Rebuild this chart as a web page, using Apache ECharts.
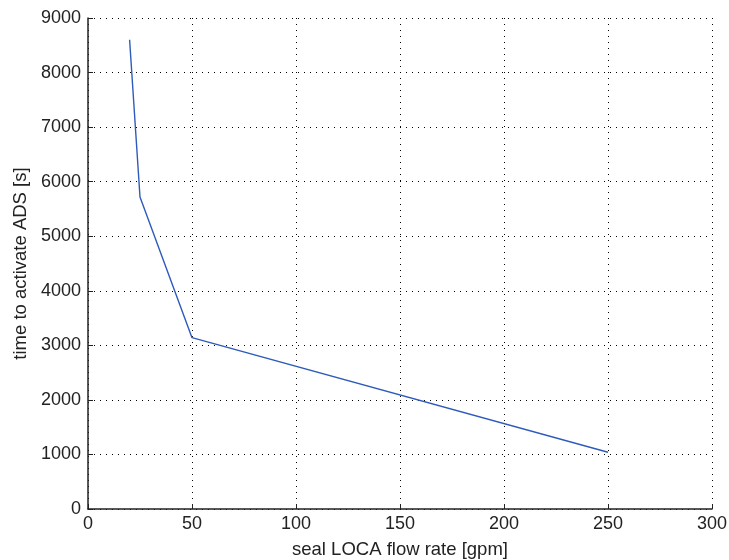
<!DOCTYPE html>
<html>
<head>
<meta charset="utf-8">
<script src="https://cdn.jsdelivr.net/npm/echarts@6/dist/echarts.min.js"></script>
<style>html,body{margin:0;padding:0;background:#fff}#c{width:729px;height:560px}</style>
</head>
<body>
<div id="c"></div>
<script>
const flowRate = [20, 25, 50, 250];
const timeToADS = [8600, 5720, 3140, 1040];
const xTicks = [0, 50, 100, 150, 200, 250, 300];
const yTicks = [0, 1000, 2000, 3000, 4000, 5000, 6000, 7000, 8000, 9000];
const xTitle = 'seal LOCA flow rate [gpm]';
const yTitle = 'time to activate ADS [s]';

const font = 'Liberation Sans, Arial, sans-serif';
const chart = echarts.init(document.getElementById('c'), null, {renderer: 'canvas'});
const gridLine = {show: true, lineStyle: {color: '#000', type: [1, 5], width: 1}};
chart.setOption({
  animation: false,
  backgroundColor: '#fff',
  grid: {left: 88, right: 17, top: 18, bottom: 51, show: false, containLabel: false, outerBoundsMode: 'none'},
  xAxis: {
    type: 'value', min: xTicks[0], max: xTicks[xTicks.length - 1], interval: 50,
    name: xTitle, nameLocation: 'middle', nameGap: 31,
    nameTextStyle: {fontFamily: font, fontSize: 18.5, color: '#222'},
    axisLine: {show: true, onZero: false, lineStyle: {color: '#222', width: 1.5}},
    axisTick: {show: true, inside: true, length: 5, lineStyle: {color: '#222'}},
    axisLabel: {fontFamily: font, fontSize: 18, color: '#222', margin: 6, formatter: v => String(v)},
    splitLine: gridLine
  },
  yAxis: {
    type: 'value', min: yTicks[0], max: yTicks[yTicks.length - 1], interval: 1000,
    name: yTitle, nameLocation: 'middle', nameGap: 58, nameRotate: 90,
    nameTextStyle: {fontFamily: font, fontSize: 18.5, color: '#222'},
    axisLine: {show: true, onZero: false, lineStyle: {color: '#222', width: 1.5}},
    axisTick: {show: true, inside: true, length: 5, lineStyle: {color: '#222'}},
    axisLabel: {fontFamily: font, fontSize: 18, color: '#222', margin: 7, formatter: v => String(v)},
    splitLine: gridLine
  },
  series: [{
    type: 'line',
    data: flowRate.map((x, i) => [x, timeToADS[i]]),
    showSymbol: false,
    lineStyle: {color: '#2d5bbb', width: 1.4},
    silent: true
  }]
});
</script>
</body>
</html>
